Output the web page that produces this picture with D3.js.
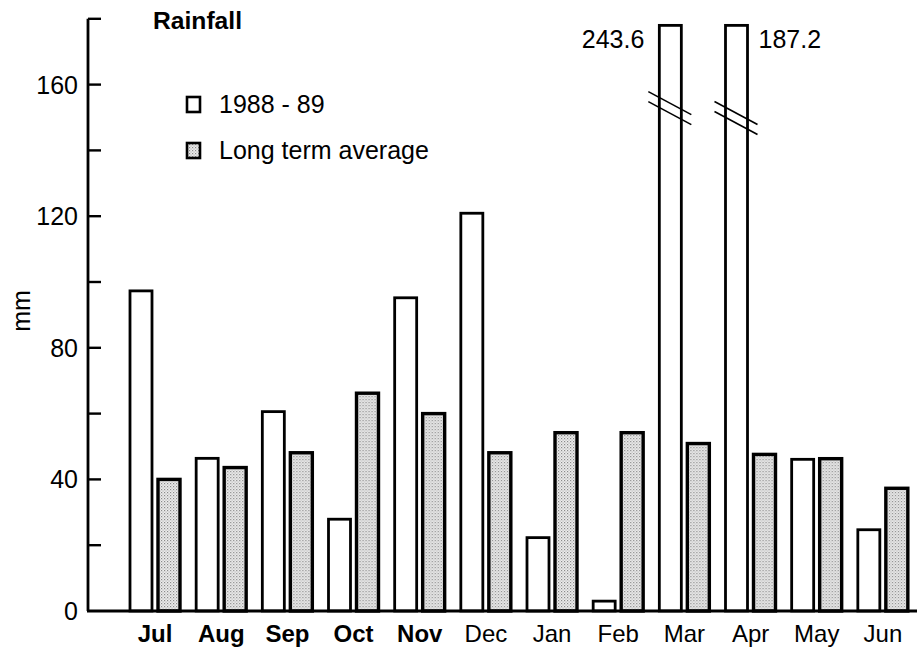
<!DOCTYPE html>
<html><head><meta charset="utf-8">
<script src="https://cdn.jsdelivr.net/npm/d3@7"></script>
<style>
html,body{margin:0;padding:0;background:#fff;}
svg{display:block;font-family:"Liberation Sans",Arial,Helvetica,sans-serif;}
</style></head>
<body>
<svg id="chart" width="919" height="655"></svg>
<script>
// ---- data ----
const months = ["Jul","Aug","Sep","Oct","Nov","Dec","Jan","Feb","Mar","Apr","May","Jun"];
const boldMonths = ["Jul","Aug","Sep","Oct","Nov"];
const rain1988 = [97.3, 46.4, 60.6, 27.9, 95.2, 120.9, 22.3, 3.0, 243.6, 187.2, 46.1, 24.7];
const rainAvg  = [40.0, 43.6, 48.1, 66.2, 60.0, 48.1, 54.2, 54.2, 50.9, 47.6, 46.3, 37.3];
const seriesNames = ["1988 - 89", "Long term average"];
const yTicks = [0, 40, 80, 120, 160];
const yMinorTicks = [0, 20, 40, 60, 80, 100, 120, 140, 160, 180];
const axisMax = 180;
const breakCap = 178;          // broken bars are drawn to this height
const breakAt = {Mar: 153, Apr: 150};

const svg = d3.select("#chart");

// ---- scales ----
const y = d3.scaleLinear().domain([0, axisMax]).range([611, 18.8]);
const x0 = d3.scaleBand().domain(months).range([122, 916]).paddingInner(0).paddingOuter(0);
const x1 = d3.scaleBand().domain([0, 1]).range([8, 58]).paddingInner(6/28).paddingOuter(0);

// stipple pattern
const defs = svg.append("defs");
const pat = defs.append("pattern").attr("id","stip").attr("patternUnits","userSpaceOnUse")
  .attr("width",3).attr("height",3);
pat.append("rect").attr("width",3).attr("height",3).attr("fill","#ececec");
pat.append("rect").attr("x",0).attr("y",0).attr("width",1.2).attr("height",1.2).attr("fill","#8a8a8a");
pat.append("rect").attr("x",1.5).attr("y",1.5).attr("width",1.1).attr("height",1.1).attr("fill","#a8a8a8");

// ---- bars ----
const data = months.map((m,i)=>({m, vals:[rain1988[i], rainAvg[i]]}));
const groups = svg.append("g").selectAll("g").data(data).join("g")
  .attr("transform", d=>`translate(${x0(d.m)},0)`);
groups.selectAll("rect").data(d=>d.vals.map((v,k)=>({k,v,m:d.m}))).join("rect")
  .attr("x", d=>x1(d.k))
  .attr("y", d=>y(Math.min(d.v, breakCap)))
  .attr("width", x1.bandwidth())
  .attr("height", d=>y(0)-y(Math.min(d.v, breakCap)))
  .attr("fill", d=>d.k===0 ? "#fff" : "url(#stip)")
  .attr("stroke","#000")
  .attr("stroke-width", d=>d.k===0 ? 2.8 : 3.4);

// break marks
data.filter(d=>d.vals[0] > breakCap).forEach(d=>{
  const bx = x0(d.m) + x1(0);
  const bw = x1.bandwidth();
  const yc = y(breakAt[d.m]);
  [-5, 5].forEach(off=>{
    svg.append("line")
      .attr("x1", bx-11).attr("y1", yc+off-11)
      .attr("x2", bx+bw+10).attr("y2", yc+off+12)
      .attr("stroke","#000").attr("stroke-width",1.6);
  });
});

// value labels for broken bars
const iMar = months.indexOf("Mar"), iApr = months.indexOf("Apr");
svg.append("text").attr("x", x0("Mar")+x1(0)-15).attr("y", 48)
  .attr("text-anchor","end").attr("font-size",25).text(rain1988[iMar].toFixed(1));
svg.append("text").attr("x", x0("Apr")+x1(0)+x1.bandwidth()+11).attr("y", 48)
  .attr("text-anchor","start").attr("font-size",25).text(rain1988[iApr].toFixed(1));

// ---- axes ----
const gy = svg.append("g").attr("transform","translate(88,0)");
gy.append("line").attr("x1",0).attr("x2",0).attr("y1",y(axisMax)).attr("y2",y(0))
  .attr("stroke","#000").attr("stroke-width",2.8);
gy.selectAll("line.t").data(yMinorTicks.filter(v=>v>0)).join("line").attr("class","t")
  .attr("x1",0).attr("x2",13).attr("y1",d=>y(d)).attr("y2",d=>y(d))
  .attr("stroke","#000").attr("stroke-width",2.4);
gy.selectAll("text").data(yTicks).join("text")
  .attr("x",-10).attr("y",d=>y(d)+9).attr("text-anchor","end")
  .attr("font-size",25).text(d=>d);

// baseline
svg.append("line").attr("x1",87).attr("x2",917).attr("y1",y(0)).attr("y2",y(0))
  .attr("stroke","#000").attr("stroke-width",3.2);

// month labels
svg.append("g").selectAll("text").data(months).join("text")
  .attr("x", d=>x0(d)+x0.bandwidth()/2)
  .attr("y", 642)
  .attr("text-anchor","middle")
  .attr("font-size",24)
  .attr("font-weight", d=>boldMonths.includes(d) ? "bold" : "normal")
  .text(d=>d);

// y label
svg.append("text").attr("transform","translate(30,311) rotate(-90)")
  .attr("text-anchor","middle").attr("font-size",25).text("mm");

// title
svg.append("text").attr("x",153).attr("y",29).attr("font-size",23).attr("font-weight","bold")
  .attr("textLength",89).attr("lengthAdjust","spacingAndGlyphs").text("Rainfall");

// legend
const leg = svg.append("g");
seriesNames.forEach((n,k)=>{
  const ly = k===0 ? 97 : 143;
  leg.append("rect").attr("x",187).attr("y",ly).attr("width",13).attr("height",15)
    .attr("fill", k===0 ? "#fff" : "url(#stip)").attr("stroke","#000").attr("stroke-width",2.6);
  leg.append("text").attr("x",219).attr("y",ly+16).attr("font-size",25).text(n);
});
</script>
</body></html>
